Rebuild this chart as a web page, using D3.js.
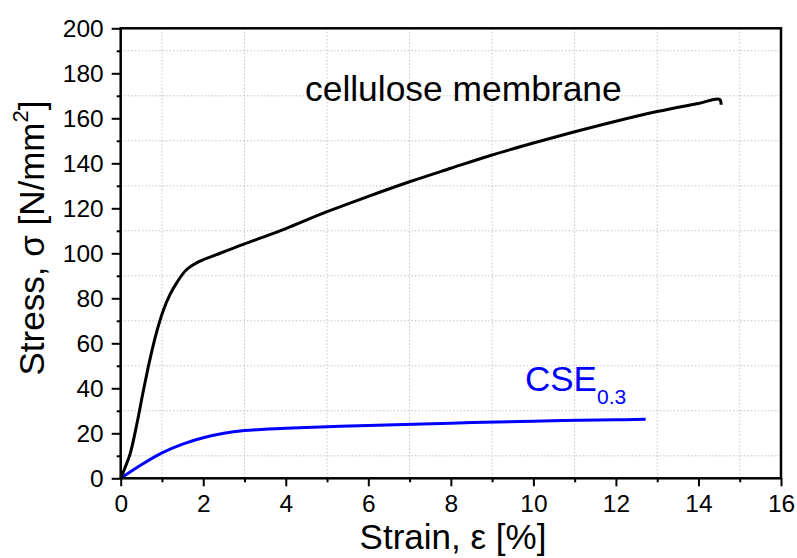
<!DOCTYPE html>
<html><head><meta charset="utf-8">
<script src="https://cdn.jsdelivr.net/npm/d3@7"></script>
<style>body{margin:0;background:#fff}svg{display:block}text{font-family:"Liberation Sans",Arial,sans-serif}</style>
</head><body>
<svg id="c" width="797" height="558"></svg>
<script>
const celluloseStrain = [0,0.1,0.23,0.39,0.55,0.71,0.87,1.03,1.19,1.36,1.6,1.92,2.32,2.97,3.5,4,5,6,7,8,9,10,11,12,13,14,14.51,14.55];
const celluloseStress = [0,4.5,11,24,39,53,65,74.5,81.5,87,92.8,96.5,99.4,104,107.5,111,118.5,125.3,131.8,137.8,143.7,149,154,158.7,163,166.6,168.4,166];
const cseStrain = [0,0.5,1,1.5,2,2.5,3,3.5,4,5,6,8,10,12,12.72];
const cseStress = [0,6,11.3,15.2,18,20,21.2,21.8,22.2,22.9,23.5,24.5,25.4,26,26.2];
const xMajorTicks = [0,2,4,6,8,10,12,14,16];
const xMinorTicks = [1,3,5,7,9,11,13,15];
const yMajorTicks = [0,20,40,60,80,100,120,140,160,180,200];
const yMinorTicks = [10,30,50,70,90,110,130,150,170,190];

const L=120.7,R=781,T=28.3,B=478.3;
const svg=d3.select("#c");
const x=d3.scaleLinear().domain([0,16]).range([L,R]);
const y=d3.scaleLinear().domain([0,200]).range([B,T]);

// grid
const g=svg.append("g");
g.selectAll("line.vx").data(xMinorTicks).join("line")
 .attr("x1",d=>x(d)).attr("x2",d=>x(d)).attr("y1",T).attr("y2",B)
 .attr("stroke","#c4c4c4").attr("stroke-width",1).attr("stroke-dasharray","1.5,2");
g.selectAll("line.hy").data(yMinorTicks).join("line")
 .attr("y1",d=>y(d)).attr("y2",d=>y(d)).attr("x1",L).attr("x2",R)
 .attr("stroke","#c4c4c4").attr("stroke-width",1).attr("stroke-dasharray","1.5,2");

// lines
const mk=(xs,ys)=>xs.map((v,i)=>[v,ys[i]]);
const line=d3.line().x(d=>x(d[0])).y(d=>y(d[1])).curve(d3.curveCatmullRom.alpha(0.5));
svg.append("path").datum(mk(cseStrain,cseStress)).attr("d",line)
 .attr("fill","none").attr("stroke","#0000ff").attr("stroke-width",3);
svg.append("path").datum(mk(celluloseStrain,celluloseStress)).attr("d",line)
 .attr("fill","none").attr("stroke","#000").attr("stroke-width",3);

// axes
const ax=svg.append("g").attr("transform",`translate(0,${B})`)
 .call(d3.axisBottom(x).tickValues(xMajorTicks).tickSize(8).tickPadding(8).tickFormat(d3.format("d")));
ax.select(".domain").remove();
const axm=svg.append("g").attr("transform",`translate(0,${B})`)
 .call(d3.axisBottom(x).tickValues(xMinorTicks).tickSize(4).tickFormat(""));
axm.select(".domain").remove();
const ay=svg.append("g").attr("transform",`translate(${L},0)`)
 .call(d3.axisLeft(y).tickValues(yMajorTicks).tickSize(9).tickPadding(8).tickFormat(d3.format("d")));
ay.select(".domain").remove();
const aym=svg.append("g").attr("transform",`translate(${L},0)`)
 .call(d3.axisLeft(y).tickValues(yMinorTicks).tickSize(4).tickFormat(""));
aym.select(".domain").remove();
svg.selectAll(".tick line").attr("stroke","#000").attr("stroke-width",2);
svg.selectAll(".tick text").attr("font-size",24.5).attr("fill","#000").attr("font-family","Liberation Sans, Arial, sans-serif");
ax.selectAll(".tick text").attr("dy","0.71em");

// frame
svg.append("rect").attr("x",L).attr("y",T).attr("width",R-L).attr("height",B-T)
 .attr("fill","none").attr("stroke","#000").attr("stroke-width",2.5);

// titles
svg.append("text").attr("x",453).attr("y",549).attr("text-anchor","middle")
 .attr("font-size",35).text("Strain, ε [%]");
const yt=svg.append("text").attr("transform","translate(43.5,238) rotate(-90)").attr("text-anchor","middle").attr("font-size",35);
yt.append("tspan").text("Stress, σ [N/mm");
yt.append("tspan").attr("font-size",22).attr("dy",-16).text("2");
yt.append("tspan").attr("dy",16).text("]");

svg.append("text").attr("x",305).attr("y",101).attr("font-size",35.4).text("cellulose membrane");
const cse=svg.append("text").attr("x",525).attr("y",391).attr("font-size",35).attr("fill","#0000ff");
cse.append("tspan").text("CSE");
cse.append("tspan").attr("font-size",21).attr("dy",12.5).text("0.3");
</script>
</body></html>
